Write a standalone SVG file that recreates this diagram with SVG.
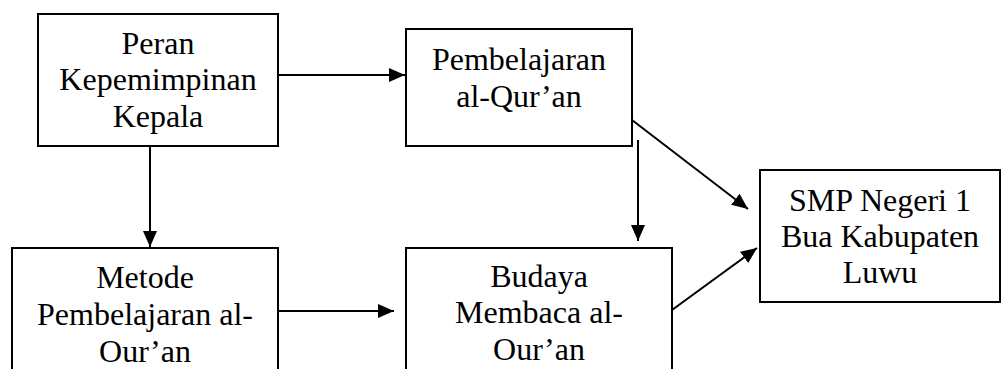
<svg xmlns="http://www.w3.org/2000/svg" width="1002" height="369" viewBox="0 0 1002 369">
<defs>
<style>
.box{fill:#fff;stroke:#000;stroke-width:2}
.t{font-family:"Liberation Serif","Times New Roman",serif;font-size:32px;fill:#000;text-anchor:middle}
.c{stroke:#000;stroke-width:2;fill:none}
</style>
<marker id="ah" markerUnits="userSpaceOnUse" markerWidth="17" markerHeight="14" refX="16" refY="7" orient="auto">
<path d="M0,0 L16,7 L0,14 z" fill="#000"/>
</marker>
</defs>
<rect width="1002" height="369" fill="#fff"/>
<g id="connectors">
<line class="c" x1="278" y1="75" x2="405" y2="75" marker-end="url(#ah)"/>
<line class="c" x1="150" y1="146" x2="150" y2="247" marker-end="url(#ah)"/>
<line class="c" x1="278" y1="311" x2="394" y2="311" marker-end="url(#ah)"/>
<line class="c" x1="638" y1="140" x2="638" y2="241" marker-end="url(#ah)"/>
<line class="c" x1="632" y1="120" x2="748" y2="209" marker-end="url(#ah)"/>
<line class="c" x1="672" y1="310" x2="757" y2="248" marker-end="url(#ah)"/>
</g>
<g id="node-peran">
<rect class="box" x="38" y="14" width="240" height="132"/>
<text class="t" x="158" y="54">Peran</text>
<text class="t" x="158" y="90">Kepemimpinan</text>
<text class="t" x="158" y="127">Kepala</text>
</g>
<g id="node-pembelajaran">
<rect class="box" x="406" y="29" width="226" height="117"/>
<text class="t" x="519" y="70">Pembelajaran</text>
<text class="t" x="519" y="107">al-Qur’an</text>
</g>
<g id="node-metode">
<rect class="box" x="12" y="248" width="266" height="140"/>
<text class="t" x="145" y="288">Metode</text>
<text class="t" x="145" y="325">Pembelajaran al-</text>
<text class="t" x="145" y="362">Our’an</text>
</g>
<g id="node-budaya">
<rect class="box" x="406" y="248" width="266" height="140"/>
<text class="t" x="539" y="287">Budaya</text>
<text class="t" x="539" y="323">Membaca al-</text>
<text class="t" x="539" y="360">Our’an</text>
</g>
<g id="node-smp">
<rect class="box" x="760" y="170" width="240" height="132"/>
<text class="t" x="880" y="211">SMP Negeri 1</text>
<text class="t" x="880" y="247">Bua Kabupaten</text>
<text class="t" x="880" y="283">Luwu</text>
</g>
</svg>
